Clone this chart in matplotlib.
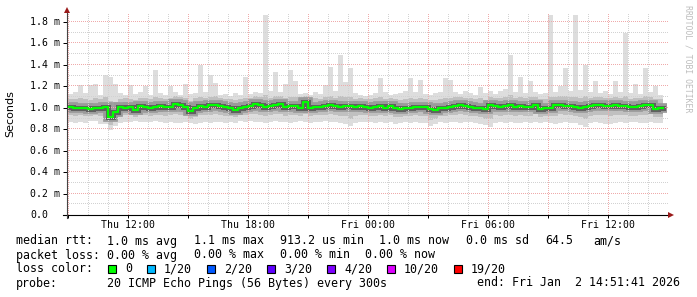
import numpy as np
import matplotlib
matplotlib.use('Agg')
import matplotlib.pyplot as plt
import matplotlib.transforms as mtransforms
from matplotlib.patches import Rectangle

# rtt per 15 min bin (ms), starting Thu 09:00
med = [1.01,1.00,1.00,1.00,0.99,1.00,1.00,1.01,0.91,0.96,
       1.01,1.00,1.01,0.98,1.02,1.01,1.00,1.01,1.02,1.01,
       1.01,1.04,1.03,1.01,0.97,1.00,1.02,1.01,1.03,1.03,
       1.02,1.01,1.00,0.98,1.00,1.01,1.02,1.04,1.03,1.01,
       1.02,1.03,1.04,1.01,1.02,1.02,1.00,1.05,1.00,1.01,
       1.01,1.02,1.03,1.02,1.01,1.02,1.02,1.01,1.02,1.01,
       1.00,1.01,1.02,1.00,1.02,1.00,0.99,1.00,1.00,1.01,
       1.01,1.01,0.99,0.98,1.00,1.00,1.01,1.02,1.03,1.02,
       1.01,1.00,1.00,0.99,1.03,1.02,1.01,1.02,1.03,1.01,
       1.02,1.01,1.01,1.03,0.99,1.00,1.00,1.03,1.03,1.02,
       1.02,1.01,1.00,1.01,1.02,1.03,1.03,1.02,1.02,1.03,
       1.02,1.02,1.01,1.01,1.02,1.03,1.03,0.99,1.00]
hi = [1.13,1.15,1.21,1.14,1.21,1.22,1.12,1.31,1.29,1.22,
      1.14,1.12,1.21,1.13,1.15,1.20,1.12,1.35,1.14,1.12,
      1.20,1.15,1.12,1.22,1.13,1.14,1.40,1.15,1.31,1.23,
      1.12,1.13,1.11,1.14,1.12,1.29,1.13,1.15,1.14,1.87,
      1.16,1.33,1.15,1.22,1.35,1.25,1.13,1.14,1.12,1.15,
      1.13,1.21,1.38,1.16,1.49,1.24,1.37,1.14,1.12,1.11,
      1.12,1.14,1.28,1.15,1.12,1.13,1.14,1.16,1.28,1.15,
      1.26,1.13,1.12,1.14,1.15,1.28,1.26,1.15,1.13,1.16,
      1.14,1.12,1.19,1.14,1.16,1.13,1.16,1.18,1.49,1.15,
      1.29,1.14,1.25,1.15,1.13,1.14,1.87,1.15,1.20,1.37,
      1.16,1.87,1.17,1.40,1.15,1.25,1.14,1.16,1.13,1.25,
      1.15,1.70,1.14,1.22,1.13,1.37,1.15,1.20,1.12]
lo = [0.87,0.86,0.87,0.86,0.88,0.88,0.85,0.85,0.79,0.83,
      0.86,0.87,0.87,0.88,0.87,0.87,0.87,0.88,0.87,0.86,
      0.87,0.86,0.86,0.87,0.86,0.85,0.86,0.87,0.86,0.87,
      0.87,0.86,0.87,0.86,0.88,0.87,0.88,0.87,0.87,0.86,
      0.87,0.88,0.87,0.87,0.86,0.87,0.88,0.87,0.86,0.87,
      0.87,0.88,0.87,0.87,0.86,0.85,0.83,0.86,0.87,0.87,
      0.87,0.86,0.87,0.86,0.87,0.85,0.86,0.87,0.86,0.87,
      0.86,0.86,0.83,0.85,0.87,0.86,0.87,0.87,0.86,0.87,
      0.87,0.86,0.85,0.84,0.82,0.86,0.87,0.86,0.87,0.86,
      0.86,0.87,0.86,0.87,0.86,0.87,0.86,0.85,0.86,0.87,
      0.86,0.86,0.84,0.82,0.86,0.87,0.86,0.85,0.85,0.86,
      0.87,0.86,0.87,0.87,0.86,0.86,0.87,0.86,0.86]
up = [1.08,1.08,1.09,1.08,1.07,1.09,1.08,1.10,1.06,1.05,
      1.08,1.09,1.08,1.07,1.09,1.09,1.08,1.10,1.09,1.08,
      1.09,1.11,1.10,1.09,1.06,1.09,1.10,1.09,1.10,1.11,
      1.09,1.08,1.08,1.07,1.08,1.09,1.09,1.11,1.10,1.12,
      1.09,1.11,1.11,1.09,1.10,1.10,1.08,1.11,1.08,1.09,
      1.08,1.10,1.11,1.09,1.11,1.10,1.10,1.08,1.09,1.08,
      1.08,1.09,1.10,1.08,1.09,1.08,1.07,1.08,1.09,1.08,
      1.09,1.08,1.07,1.07,1.08,1.09,1.09,1.10,1.10,1.09,
      1.09,1.08,1.09,1.07,1.10,1.09,1.09,1.10,1.12,1.09,
      1.10,1.09,1.10,1.10,1.08,1.08,1.10,1.10,1.11,1.11,
      1.10,1.10,1.09,1.11,1.09,1.10,1.10,1.09,1.09,1.10,
      1.09,1.11,1.08,1.09,1.09,1.11,1.10,1.08,1.08]
dn = [0.93,0.92,0.93,0.92,0.92,0.93,0.92,0.92,0.84,0.88,
      0.92,0.93,0.93,0.91,0.93,0.93,0.92,0.93,0.93,0.92,
      0.93,0.94,0.93,0.93,0.90,0.91,0.93,0.93,0.93,0.94,
      0.93,0.92,0.92,0.91,0.93,0.93,0.94,0.94,0.93,0.92,
      0.93,0.94,0.94,0.92,0.93,0.93,0.92,0.94,0.92,0.93,
      0.93,0.93,0.94,0.93,0.92,0.92,0.90,0.92,0.93,0.93,
      0.92,0.92,0.93,0.92,0.93,0.91,0.91,0.92,0.92,0.93,
      0.92,0.92,0.89,0.90,0.92,0.92,0.93,0.93,0.94,0.93,
      0.92,0.92,0.91,0.90,0.90,0.93,0.92,0.93,0.93,0.92,
      0.93,0.92,0.92,0.94,0.91,0.92,0.92,0.92,0.94,0.93,
      0.93,0.92,0.91,0.90,0.92,0.93,0.93,0.93,0.92,0.93,
      0.93,0.93,0.92,0.92,0.93,0.93,0.94,0.91,0.91]

# hours relative to Fri 00:00
t_start = -15.0
step_h = 0.25
xticks_lab = {-12: 'Thu 12:00', -6: 'Thu 18:00', 0: 'Fri 00:00', 6: 'Fri 06:00', 12: 'Fri 12:00'}
yticks = [0.0, 0.2, 0.4, 0.6, 0.8, 1.0, 1.2, 1.4, 1.6, 1.8]
ylabels = ['0.0', '0.2 m', '0.4 m', '0.6 m', '0.8 m', '1.0 m', '1.2 m', '1.4 m', '1.6 m', '1.8 m']

loss_labels = ['0', '1/20', '2/20', '3/20', '4/20', '10/20', '19/20']
loss_colors = ['#00ff00', '#00b8ff', '#0059ff', '#5e00ff', '#7e00ff', '#dd00ff', '#ff0000']

rtt_row = [('median rtt:', 16), ('1.0 ms avg', 107), ('1.1 ms max', 194), ('913.2 us min', 280),
           ('1.0 ms now', 379), ('0.0 ms sd', 466), ('64.5', 545), ('am/s', 593)]
loss_row = [('packet loss:', 16), ('0.00 % avg', 107), ('0.00 % max', 194),
            ('0.00 % min', 280), ('0.00 % now', 365)]

W, H = 697, 297
fig = plt.figure(figsize=(W / 100, H / 100), dpi=100)
fig.patch.set_facecolor('white')

def fx(px):
    return px / W

def fy(py):
    return 1 - py / H

xpx = 20.0    # px per hour
ypx = 107.2   # px per ms
ax = fig.add_axes([fx(67), fy(215), 600 / W, 202 / H])
ax.set_xlim(-15.05, 14.95)
ax.set_ylim(0, 202 / ypx)
for s in ax.spines.values():
    s.set_visible(False)

n = len(med)
edges = t_start + step_h * np.arange(n + 1)

def ext(a):
    return np.append(a, a[-1])

# smoke
ax.fill_between(edges, ext(lo), ext(hi), step='post', color='#dddddd', lw=0, zorder=1)
ax.fill_between(edges, ext(dn), ext(up), step='post', color='#c0c0c0', lw=0, zorder=2)
ax.plot(edges, ext(med), drawstyle='steps-post', color='#9a9a9a', lw=7, zorder=3,
        solid_joinstyle='miter')
ax.plot(edges, ext(med), drawstyle='steps-post', color='#606060', lw=3.6, zorder=3,
        solid_joinstyle='miter')

# dotted grid on top of smoke: single pixels every 2 px
gx = np.arange(-15.05, 15.0, 2 / xpx)
gy = np.arange(0, 202 / ypx, 2 / ypx)
for h in range(-15, 15):
    col = '#efaaaa' if h % 3 == 0 else '#d2d2d2'
    ax.plot(np.full(gy.size, h), gy, ',', color=col, zorder=4)
for k in range(1, 19):
    col = '#efaaaa' if k % 2 == 0 else '#d2d2d2'
    ax.plot(gx, np.full(gx.size, k / 10), ',', color=col, zorder=4)

# median line
ax.plot(edges, ext(med), drawstyle='steps-post', color=loss_colors[0], lw=1.6, zorder=5)

# axes ticks
ax.set_xticks(list(range(-15, 15, 3)))
ax.set_xticklabels([xticks_lab.get(h, '') for h in range(-15, 15, 3)],
                   fontfamily='DejaVu Sans Mono', fontsize=7.1)
ax.tick_params(axis='x', direction='out', length=2.2, width=0.72, pad=1.2, colors='black')
ax.set_yticks(yticks)
ax.set_yticklabels([])
ax.tick_params(axis='y', direction='out', length=2.9, width=0.72, colors='black')
ax.set_facecolor('white')

ytr = mtransforms.blended_transform_factory(fig.transFigure, ax.transData)
for v, lab in zip(yticks, ylabels):
    ax.text(fx(30), v, lab, transform=ytr, ha='left', va='center',
            fontfamily='DejaVu Sans Mono', fontsize=7.1)

# axis lines with arrows
fig.add_artist(plt.Line2D([fx(63), fx(669)], [fy(215), fy(215)], color='black', lw=0.8))
fig.add_artist(plt.Line2D([fx(67), fx(67)], [fy(218), fy(11)], color='#444444', lw=0.8))
fig.add_artist(plt.Line2D([fx(671)], [fy(215)], marker='>', ms=4.5, color='#9a1a1a', mew=0))
fig.add_artist(plt.Line2D([fx(67)], [fy(10)], marker='^', ms=4.5, color='#9a1a1a', mew=0))

fig.text(fx(10), fy(114), 'Seconds', rotation=90, ha='center', va='center',
         fontfamily='DejaVu Sans', fontsize=8)
fig.text(fx(688), fy(59), 'RRDTOOL / TOBI OETIKER', rotation=270, ha='center', va='center',
         fontfamily='DejaVu Sans Mono', fontsize=5.9, color='#bdbdbd')

mono = dict(fontfamily='DejaVu Sans Mono', fontsize=8.4, va='center', ha='left')
for txt, x in rtt_row:
    fig.text(fx(x), fy(241), txt, **mono)
for txt, x in loss_row:
    fig.text(fx(x), fy(255), txt, **mono)

fig.text(fx(16), fy(269), 'loss color:', **mono)
bx = 108
for lab, col in zip(loss_labels, loss_colors):
    fig.add_artist(Rectangle((fx(bx), fy(272.5)), 8 / W, 8 / H, facecolor=col,
                             edgecolor='black', lw=0.8))
    tx = bx + 17
    fig.text(fx(tx), fy(269), lab, **mono)
    bx = tx + 7 * len(lab) + 15

fig.text(fx(16), fy(283), 'probe:', **mono)
fig.text(fx(107), fy(283), '20 ICMP Echo Pings (56 Bytes) every 300s', **mono)
fig.text(fx(680), fy(283), 'end: Fri Jan  2 14:51:41 2026',
         fontfamily='DejaVu Sans Mono', fontsize=8.4, va='center', ha='right')

fig.savefig('out.png', dpi=100, facecolor='white')
